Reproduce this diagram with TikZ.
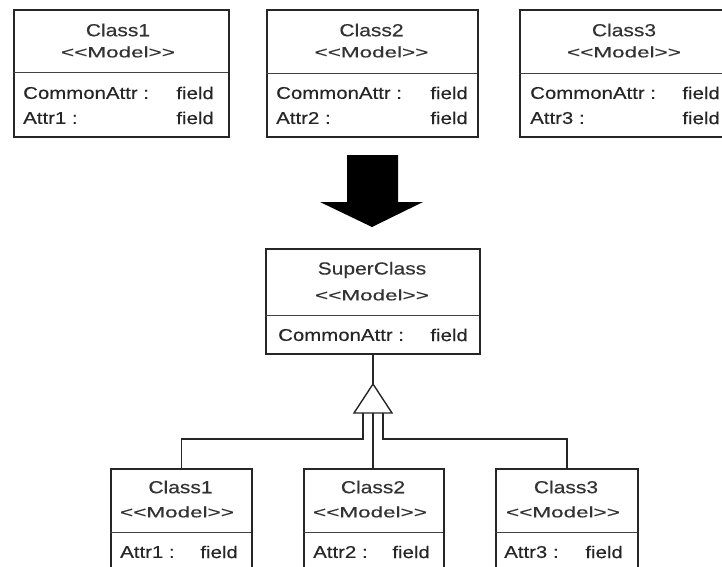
\documentclass[tikz,border=0pt]{standalone}
\usepackage{fontspec}
\setmainfont[FakeStretch=1.2,FakeBold=0.3]{Liberation Sans}
\newfontfamily\stereofont[FakeStretch=1.5,FakeBold=0.3]{Liberation Sans}
\begin{document}
\begin{tikzpicture}[x=1pt,y=-1pt,
  box/.style={draw=black!85, line width=1.6pt, fill=white, inner sep=0pt, anchor=north west},
  divider/.style={draw=black!75, line width=0.9pt},
  clsname/.style={inner sep=0pt, text=black!80, font=\fontsize{17.5}{20}\selectfont},
  stereo/.style={inner sep=0pt, text=black!80, font=\stereofont\fontsize{15}{18}\selectfont},
  attrl/.style={inner sep=0pt, anchor=west, text=black!85, font=\fontsize{17}{20}\selectfont},
  attrr/.style={inner sep=0pt, anchor=east, text=black!85, font=\fontsize{17}{20}\selectfont},
  conn/.style={draw=black!85, line width=1.4pt}
]
\useasboundingbox (0,0) rectangle (722,566);
\clip (0,0) rectangle (722,566);
\fill[white] (0,0) rectangle (722,566);

% ---- top row ----
\node[box, minimum width=215pt, minimum height=127pt] (t1) at (13,9) {};
\draw[divider] (13,72) -- (228,72);
\node[clsname] (t1n) at (118,30) {Class1};
\node[stereo] (t1s) at (118,52) {<<Model>>};
\node[attrl] (t1a1) at (23,93) {CommonAttr :};
\node[attrr] (t1f1) at (214,93) {field};
\node[attrl] (t1a2) at (23,118) {Attr1 :};
\node[attrr] (t1f2) at (214,118) {field};

\node[box, minimum width=211pt, minimum height=127pt] (t2) at (266,9) {};
\draw[divider] (266,73) -- (477,73);
\node[clsname] (t2n) at (371.5,30) {Class2};
\node[stereo] (t2s) at (371.5,52) {<<Model>>};
\node[attrl] (t2a1) at (276,93) {CommonAttr :};
\node[attrr] (t2f1) at (468,93) {field};
\node[attrl] (t2a2) at (276,118) {Attr2 :};
\node[attrr] (t2f2) at (468,118) {field};

\node[box, minimum width=211pt, minimum height=127pt] (t3) at (519,9) {};
\draw[divider] (519,73) -- (730,73);
\node[clsname] (t3n) at (624,30) {Class3};
\node[stereo] (t3s) at (624,52) {<<Model>>};
\node[attrl] (t3a1) at (530,93) {CommonAttr :};
\node[attrr] (t3f1) at (720,93) {field};
\node[attrl] (t3a2) at (530,118) {Attr3 :};
\node[attrr] (t3f2) at (720,118) {field};

% ---- big arrow ----
\fill[black] (347,155) -- (398,155) -- (398,202) -- (423,202) -- (372,227) -- (320,202) -- (347,202) -- cycle;

% ---- superclass ----
\node[box, minimum width=214pt, minimum height=105pt] (sup) at (265,248) {};
\draw[divider] (265,315) -- (479,315);
\node[clsname] (supn) at (372,270) {SuperClass};
\node[stereo] (sups) at (372,295) {<<Model>>};
\node[attrl] (supa) at (278,335) {CommonAttr :};
\node[attrr] (supf) at (468,335) {field};

% ---- bottom row ----
\node[box, minimum width=141pt, minimum height=120pt] (c1) at (110,468) {};
\draw[divider] (110,532) -- (251,532);
\node[clsname] (c1n) at (180.5,487) {Class1};
\node[stereo] (c1s) at (177,512) {<<Model>>};
\node[attrl] (c1a) at (120,552) {Attr1 :};
\node[attrr] (c1f) at (238,552) {field};

\node[box, minimum width=140pt, minimum height=120pt] (c2) at (303,468) {};
\draw[divider] (303,532) -- (443,532);
\node[clsname] (c2n) at (373,487) {Class2};
\node[stereo] (c2s) at (370,512) {<<Model>>};
\node[attrl] (c2a) at (313,552) {Attr2 :};
\node[attrr] (c2f) at (430,552) {field};

\node[box, minimum width=142pt, minimum height=120pt] (c3) at (495,468) {};
\draw[divider] (495,532) -- (637,532);
\node[clsname] (c3n) at (566,487) {Class3};
\node[stereo] (c3s) at (563,512) {<<Model>>};
\node[attrl] (c3a) at (504,552) {Attr3 :};
\node[attrr] (c3f) at (623,552) {field};

% ---- generalization ----
\coordinate (apex) at (373,384);
\coordinate (bl) at (363,413);
\coordinate (bm) at (373,413);
\coordinate (br) at (383,413);
\draw[conn] (sup.south -| apex) -- (apex);
\draw[conn, fill=white, line join=miter] (apex) -- (392,413) -- (354,413) -- cycle;
\draw[conn] (bl) -- ++(0,26) -| (c1.north);
\draw[conn] (bm) -- (c2.north -| bm);
\draw[conn] (br) -- ++(0,26) -| (c3.north);
\end{tikzpicture}
\end{document}
